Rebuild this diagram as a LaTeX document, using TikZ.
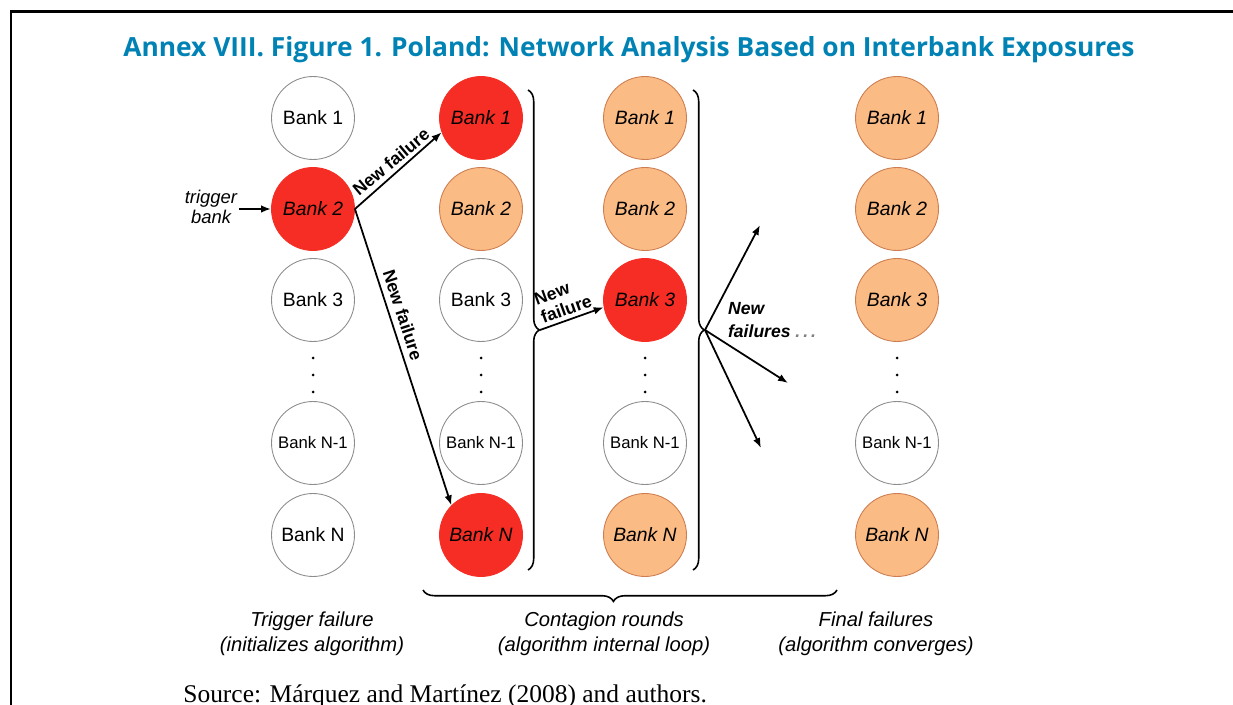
\documentclass[tikz,border=0pt]{standalone}
\usepackage{fontspec}
\setmainfont{Liberation Sans}
\newfontfamily\titlefont{Open Sans}
\newfontfamily\sourcefont{Liberation Serif}
\usepackage{tikz}
\usetikzlibrary{positioning,arrows.meta,decorations.pathreplacing}
\usepackage{xcolor}
\definecolor{TitleBlue}{RGB}{0,130,180}
\definecolor{FailRed}{RGB}{246,45,36}
\definecolor{HitOrange}{RGB}{250,187,132}
\definecolor{HitEdge}{RGB}{205,125,80}

\begin{document}
\begin{tikzpicture}[x=0.02cm, y=-0.02cm,
    bank/.style={circle, draw=black!45, line width=0.5pt, fill=white,
                 minimum size=1.66cm, inner sep=0pt, font=\fontsize{11}{13}\selectfont},
    failed/.style={bank, draw=FailRed, fill=FailRed, font=\fontsize{11}{13}\selectfont\itshape},
    hit/.style={bank, draw=HitEdge, fill=HitOrange, font=\fontsize{11}{13}\selectfont\itshape},
    tight/.style={font=\fontsize{9.5}{11}\selectfont},
    flabel/.style={font=\fontsize{10}{11}\selectfont\bfseries, inner sep=1pt},
    caption/.style={align=center, font=\fontsize{11.5}{14}\selectfont\itshape},
    arrow/.style={-{Latex[length=2mm]}, line width=1pt},
    brace/.style={decorate, decoration={brace, amplitude=6.5pt}, line width=0.9pt}
]
    \useasboundingbox (0,0) rectangle (1233,705);
    \draw[line width=1.7pt] (1233,12) -- (11,12) -- (11,705);

    \node[font=\titlefont\bfseries\fontsize{15}{18}\selectfont, text=TitleBlue] (title) at (629,50)
        {Annex VIII. Figure 1. Poland: Network Analysis Based on Interbank Exposures};

    % trigger column
    \node[bank] (t1) at (313,118) {Bank 1};
    \node[failed] (t2) at (313,209) {Bank 2};
    \node[bank] (t3) at (313,300) {Bank 3};
    \node[bank, tight] (tm) at (313,443) {Bank N-1};
    \node[bank] (tn) at (313,535) {Bank N};
    % first contagion round
    \node[failed] (c1) at (481,118) {Bank 1};
    \node[hit] (c2) at (481,209) {Bank 2};
    \node[bank] (c3) at (481,300) {Bank 3};
    \node[bank, tight] (cm) at (481,443) {Bank N-1};
    \node[failed] (cn) at (481,535) {Bank N};
    % second contagion round
    \node[hit] (d1) at (645,118) {Bank 1};
    \node[hit] (d2) at (645,209) {Bank 2};
    \node[failed] (d3) at (645,300) {Bank 3};
    \node[bank, tight] (dm) at (645,443) {Bank N-1};
    \node[hit] (dn) at (645,535) {Bank N};
    % final failures
    \node[hit] (f1) at (897,118) {Bank 1};
    \node[hit] (f2) at (897,209) {Bank 2};
    \node[hit] (f3) at (897,300) {Bank 3};
    \node[bank, tight] (fm) at (897,443) {Bank N-1};
    \node[hit] (fn) at (897,535) {Bank N};

    \fill (313,358) circle (1.5) (313,375) circle (1.5) (313,392) circle (1.5);
    \fill (481,358) circle (1.5) (481,375) circle (1.5) (481,392) circle (1.5);
    \fill (645,358) circle (1.5) (645,375) circle (1.5) (645,392) circle (1.5);
    \fill (897,358) circle (1.5) (897,375) circle (1.5) (897,392) circle (1.5);

    \node[align=center, inner sep=1pt, font=\fontsize{10.5}{11.5}\selectfont\itshape] (trig) at (211,207) {trigger\\bank};
    \draw[arrow] (trig.east |- t2) -- (t2.west);
    \draw[arrow] (t2.east) -- (c1.200);
    \draw[arrow] (t2.east) -- (cn.north west);
    \node[flabel, rotate=40] at (391,162) {New failure};
    \node[flabel, rotate=-72] at (403,315) {New failure};

    % contagion loop braces
    \draw[brace] (528,90) -- (528,570);
    \draw[brace] (693,90) -- (693,570);
    \coordinate (tip1) at (540,330);
    \coordinate (tip2) at (705,330);
    \draw[arrow] (tip1) -- (d3.190);
    \node[flabel, rotate=20, align=left] at (563,300) {New\\failure};
    \coordinate (out1) at (760,225);
    \coordinate (out2) at (788,383);
    \coordinate (out3) at (761,448);
    \draw[arrow] (tip2) -- (out1);
    \draw[arrow] (tip2) -- (out2);
    \draw[arrow] (tip2) -- (out3);
    \node[flabel, anchor=west, align=left, font=\fontsize{10}{13}\selectfont\bfseries\itshape] at (726,320)
        {New\\failures \textcolor{gray}{.\,.\,.}};

    \draw[brace, decoration={aspect=0.54}] (837,590) -- (423,590);

    \node[caption] (trigcap) at (312,634) {Trigger failure\\(initializes algorithm)};
    \node[caption] (loopcap) at (604,634) {Contagion rounds\\(algorithm internal loop)};
    \node[caption] (finalcap) at (876,634) {Final failures\\(algorithm converges)};

    \node[anchor=base west, inner sep=0pt, font=\sourcefont\fontsize{14.5}{16}\selectfont] (src) at (183,702)
        {Source: Márquez and Martínez (2008) and authors.};
\end{tikzpicture}
\end{document}
